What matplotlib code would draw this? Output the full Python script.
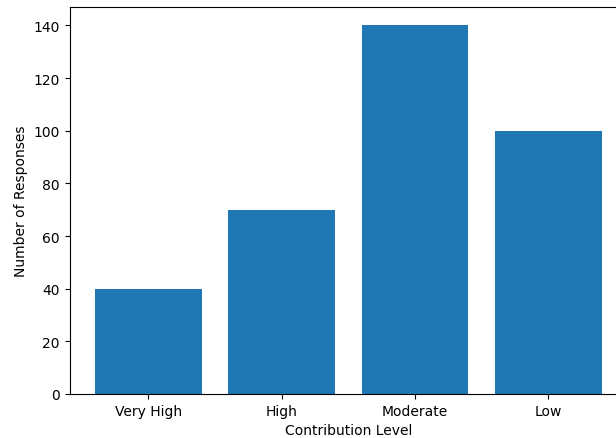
import matplotlib
matplotlib.use('Agg')
import matplotlib.pyplot as plt

# Contribution levels and response counts
levels = ['Very High', 'High', 'Moderate', 'Low']
responses = [40, 70, 140, 100]

fig = plt.figure(figsize=(6.16, 4.39), dpi=100)
# reference is cropped on the right, so the axes run past the figure edge
ax = fig.add_axes([69.5 / 616, 1 - 395 / 439, (627 - 69.5) / 616, (395 - 8) / 439])
ax.bar(levels, responses)
ax.set_xlabel('Contribution Level')
ax.set_ylabel('Number of Responses')
fig.savefig('out.png', dpi=100)
